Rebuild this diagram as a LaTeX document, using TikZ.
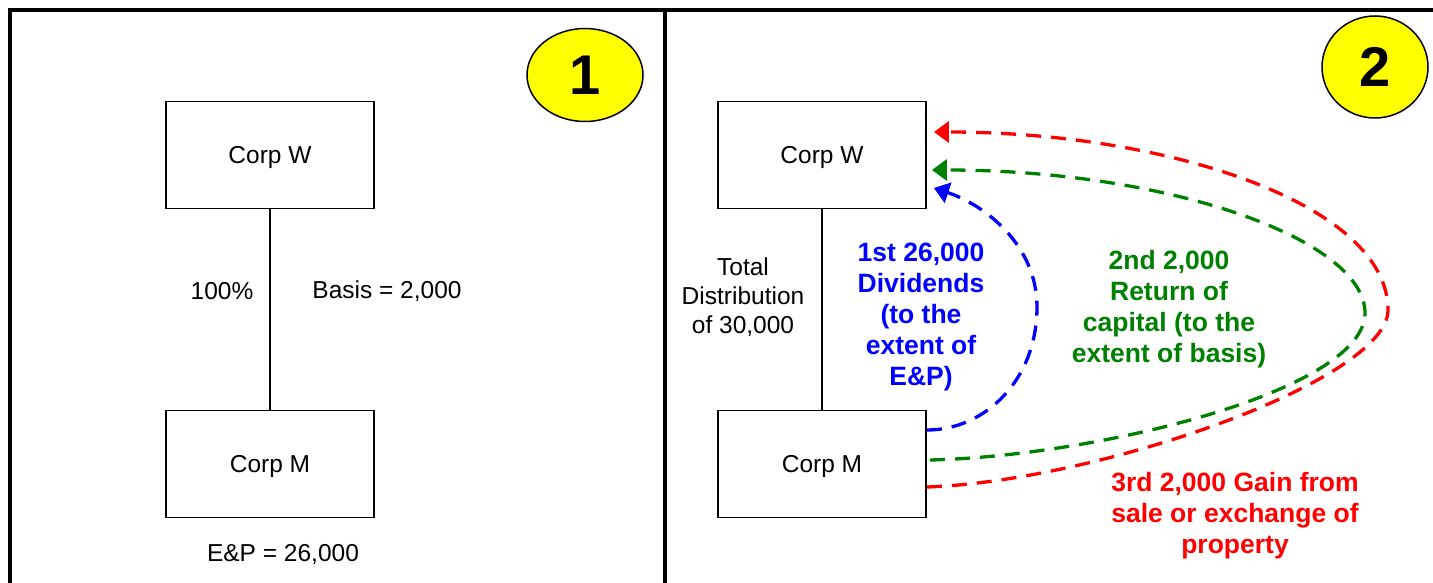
\documentclass[tikz,border=0pt]{standalone}
\usepackage{fontspec}
\setmainfont{Liberation Sans}
\usetikzlibrary{arrows.meta,shapes.geometric}
\definecolor{flowred}{RGB}{255,0,0}
\definecolor{flowgreen}{RGB}{0,128,0}
\definecolor{flowblue}{RGB}{0,0,255}
\definecolor{badgeyellow}{RGB}{255,255,0}
\begin{document}
\begin{tikzpicture}[x=1pt,y=-1pt,
 corp/.style={draw,line width=1.8pt,minimum width=208pt,minimum height=107pt,inner sep=0pt,text depth=0pt,font=\fontsize{24.5}{29}\selectfont},
 plain/.style={font=\fontsize{24.5}{29}\selectfont,align=center,inner sep=0pt},
 boldlbl/.style={font=\fontsize{26.5}{31}\selectfont\bfseries,align=center,inner sep=0pt},
 badge/.style={ellipse,draw,line width=1.5pt,fill=badgeyellow,inner sep=0pt,font=\fontsize{56}{60}\selectfont\bfseries},
 flow/.style={line width=3.3pt,dash pattern=on 15pt off 10pt,-{Triangle[length=15pt,width=21pt]}},
 frame/.style={line width=3.5pt},
 link/.style={line width=1.2pt}
]
\useasboundingbox (0,0) rectangle (1433,583);
% frame
\draw[frame] (10,583) -- (10,10) -- (1433,10);
\draw[frame] (665,10) -- (665,583);

% panel 1
\node[badge,minimum width=116pt,minimum height=93pt] (b1) at (585,75) {1};
\node[corp] (w1) at (270,155) {Corp W};
\node[corp] (m1) at (270,464) {Corp M};
\draw[link] (w1.south) -- (m1.north);
\node[plain] (pct) at (222,291) {100\%};
\node[plain] (basis) at (387,291) {Basis = 2,000};
\node[plain] (ep) at (283,555) {E\&P = 26,000};

% panel 2
\node[badge,minimum width=106pt,minimum height=102pt] (b2) at (1375,67) {2};
\node[corp] (w2) at (822,155) {Corp W};
\node[corp] (m2) at (822,464) {Corp M};
\draw[link] (w2.south) -- (m2.north);
\node[plain] (total) at (743,297) {Total\\Distribution\\of 30,000};
\node[boldlbl,text=flowblue] (div) at (921,317) {1st 26,000\\Dividends\\(to the\\extent of\\E\&P)};
\node[boldlbl,text=flowgreen] (roc) at (1169,309) {2nd 2,000\\Return of\\capital (to the\\extent of basis)};
\node[boldlbl,text=flowred] (gain) at (1235,516) {3rd 2,000 Gain from\\sale or exchange of\\property};

\coordinate (rs) at ([yshift=-23pt]m2.east);
\coordinate (gs) at ([xshift=3pt,yshift=4pt]m2.east);
\coordinate (bs) at ([yshift=34pt]m2.east);
\coordinate (rt) at ([xshift=7pt,yshift=23pt]w2.east);
\coordinate (gt) at ([xshift=5pt,yshift=-15pt]w2.east);
\coordinate (bt) at ([xshift=7pt,yshift=-33pt]w2.east);

\draw[flow,flowred] (rs) .. controls (1100,481) and (1388,380) .. (1388,310)
  .. controls (1388,205) and (1170,132) .. (rt);
\draw[flow,flowgreen] (gs) .. controls (1100,456) and (1365,390) .. (1365,313)
  .. controls (1365,240) and (1170,170) .. (gt);
\draw[flow,flowblue] (bs) .. controls (985,430) and (1037,380) .. (1037,307)
  .. controls (1037,245) and (985,205) .. (bt);
\end{tikzpicture}
\end{document}
